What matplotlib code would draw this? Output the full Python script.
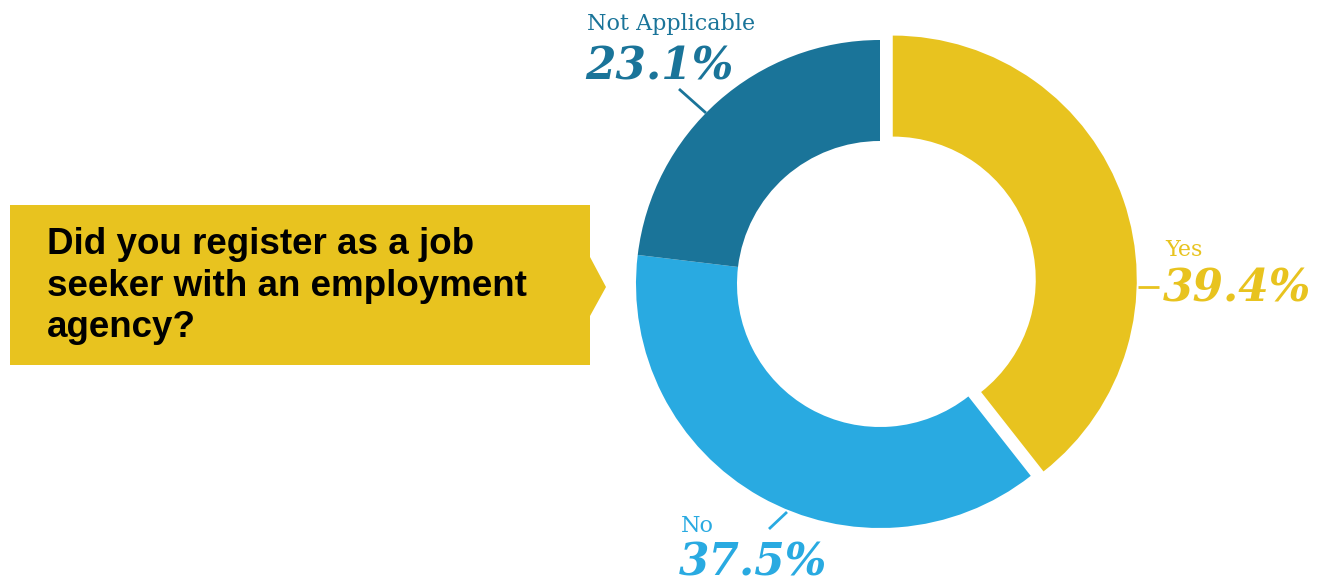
import matplotlib
matplotlib.use('Agg')
from matplotlib import pyplot as plt
from matplotlib.patches import Polygon

labels = ['Yes', 'No', 'Not Applicable']
shares = [39.4, 37.5, 23.1]
colors = ['#E8C31F', '#29AAE1', '#1A7499']
question = 'Did you register as a job\nseeker with an employment\nagency?'

W, H = 1332, 582
fig = plt.figure(figsize=(W / 100, H / 100), dpi=100)
ax = fig.add_axes([0, 0, 1, 1])

# donut, starting at 12 o'clock and going clockwise, "Yes" pulled out a bit
cx, cy, R = 880, H - 284, 244
ax.pie(shares, colors=colors, startangle=90, counterclock=False,
       center=(cx, cy), radius=R, explode=[13.5, 0, 0],
       wedgeprops=dict(width=R - 143, linewidth=0))

ax.set_xlim(0, W)
ax.set_ylim(0, H)
ax.set_aspect('equal')
ax.axis('off')

serif = 'DejaVu Serif'

# label name + percentage + short leader line
def put_label(name, pct, color, x, y_name, y_pct, line):
    ax.text(x, H - y_name, name, color=color, family=serif, fontsize=16,
            va='baseline', ha='left')
    ax.text(x - 2, H - y_pct, '%.1f%%' % pct, color=color, family=serif,
            fontsize=31.5, fontweight='bold', style='italic',
            va='baseline', ha='left')
    (x0, y0), (x1, y1) = line
    ax.plot([x0, x1], [H - y0, H - y1], color=color, lw=2, solid_capstyle='butt')

put_label(labels[2], shares[2], colors[2], 587, 30, 80, ((679, 89), (706, 113)))
put_label(labels[0], shares[0], colors[0], 1165, 256, 301, ((1138, 287), (1159, 287)))
put_label(labels[1], shares[1], colors[1], 681, 532, 575, ((769, 529), (787, 512)))

# question callout box with arrow tip
box = Polygon([(10, H - 205), (590, H - 205), (590, H - 257), (606, H - 287),
               (590, H - 316), (590, H - 365), (10, H - 365)],
              closed=True, facecolor=colors[0], edgecolor='none')
ax.add_patch(box)
ax.text(47, H - 286, question, family='Liberation Sans', fontweight='bold',
        fontsize=26.5, color='black', va='center', ha='left', linespacing=1.24)

fig.savefig('out.png', dpi=100)
